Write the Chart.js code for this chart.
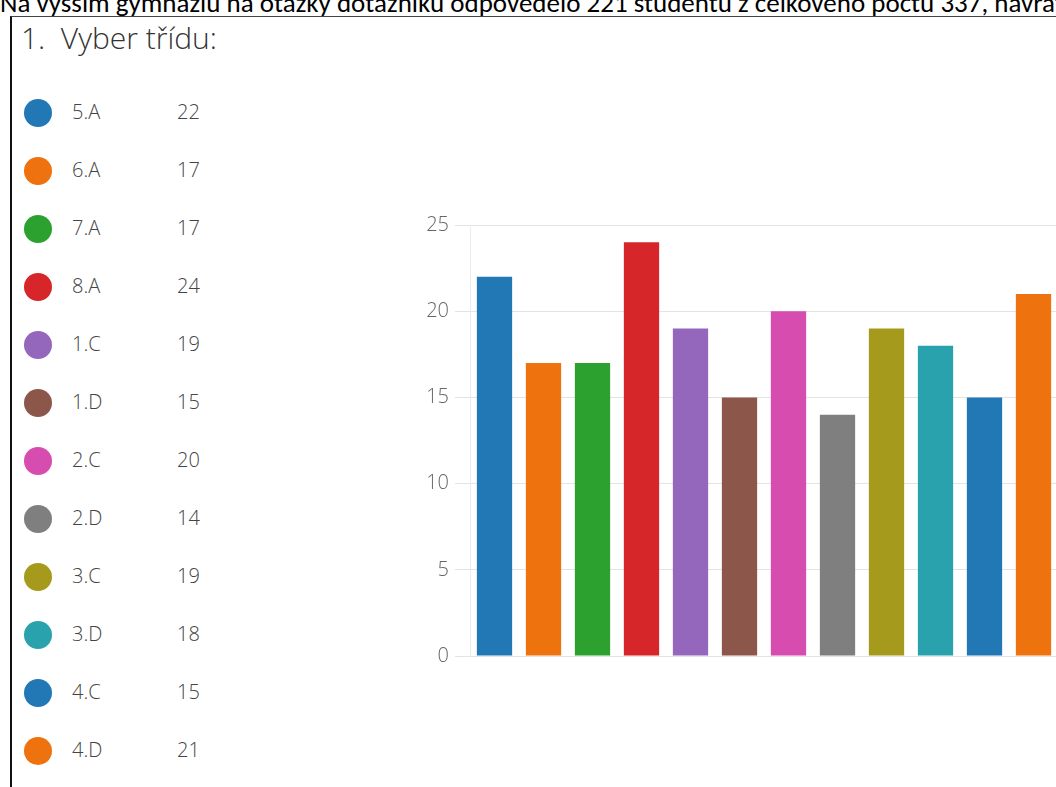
<!DOCTYPE html>
<html>
<head>
<meta charset="utf-8">
<script src="https://cdn.jsdelivr.net/npm/chart.js@4"></script>
<style>
  html, body { margin: 0; padding: 0; background: #fff; overflow: hidden; width: 1056px; height: 787px; }
  #intro { position: absolute; left: 0; top: -14px; font-family: Carlito, "Liberation Sans", Arial, sans-serif; font-size: 27px; color: #000; white-space: nowrap; }
  #box { position: absolute; left: 10px; top: 16px; width: 1060px; height: 800px; border-left: 2px solid #111; border-top: 1px solid #444; }
  #title { position: absolute; left: 21px; top: 17px; font-family: "Open Sans", sans-serif; font-weight: 300; font-size: 30px; color: #333; }
  .row { position: absolute; left: 24px; height: 30px; font-family: "Open Sans", sans-serif; font-weight: 300; font-size: 20px; color: #444; }
  .dot { position: absolute; left: 0; top: 1px; width: 28px; height: 28px; border-radius: 50%; }
  .lab { position: absolute; left: 48px; top: 0; }
  .val { position: absolute; left: 153px; top: 0; }
  #wrap { position: absolute; left: 400px; top: 190px; width: 658px; height: 484px; }
</style>
</head>
<body>
<div id="intro">Na vyšším gymnáziu na otázky dotazníku odpovědělo 221 studentů z celkového počtu 337, návratnost</div>
<div id="box"></div>
<div id="title">1.&nbsp; Vyber třídu:</div>
<div id="legend"></div>
<div id="wrap"><canvas id="barChart"></canvas></div>
<script>
var classes = ['5.A', '6.A', '7.A', '8.A', '1.C', '1.D', '2.C', '2.D', '3.C', '3.D', '4.C', '4.D'];
var counts = [22, 17, 17, 24, 19, 15, 20, 14, 19, 18, 15, 21];
var colors = ['#2277b5', '#ee720e', '#2ca12f', '#d62629', '#9467bd', '#8c564b', '#d64daf', '#7f7f7f', '#a69a1d', '#2aa2ad', '#2277b5', '#ee720e'];
var yTicks = [0, 5, 10, 15, 20, 25];

// legend on the left
var legend = document.getElementById('legend');
for (var i = 0; i < classes.length; i++) {
    var row = document.createElement('div');
    row.className = 'row';
    row.style.top = (98 + i * 58) + 'px';
    row.innerHTML = '<div class="dot" style="background:' + colors[i] + '"></div>' +
        '<div class="lab">' + classes[i] + '</div><div class="val">' + counts[i] + '</div>';
    legend.appendChild(row);
}

var ctx = document.getElementById('barChart').getContext('2d');
var barChart = new Chart(ctx, {
    type: 'bar',
    data: {
        labels: classes,
        datasets: [{
            data: counts,
            backgroundColor: colors,
            borderWidth: 0,
            categoryPercentage: 1,
            barPercentage: 0.72
        }]
    },
    options: {
        responsive: true,
        maintainAspectRatio: false,
        animation: false,
        layout: { padding: { top: 35, bottom: 5, left: 0, right: 0 } },
        plugins: { legend: { display: false }, tooltip: { enabled: false } },
        scales: {
            x: {
                display: false
            },
            y: {
                min: 0,
                max: 25,
                afterFit: function (scale) { scale.width = 70; },
                afterBuildTicks: function (scale) {
                    scale.ticks = yTicks.map(function (v) { return { value: v }; });
                },
                ticks: {
                    padding: 6,
                    color: '#666',
                    font: { family: 'Open Sans', size: 20, weight: '300' }
                },
                grid: { color: '#e3e3e3', tickLength: 15, lineWidth: 1 },
                border: { display: true, color: '#ececec' }
            }
        }
    }
});
</script>
</body>
</html>
